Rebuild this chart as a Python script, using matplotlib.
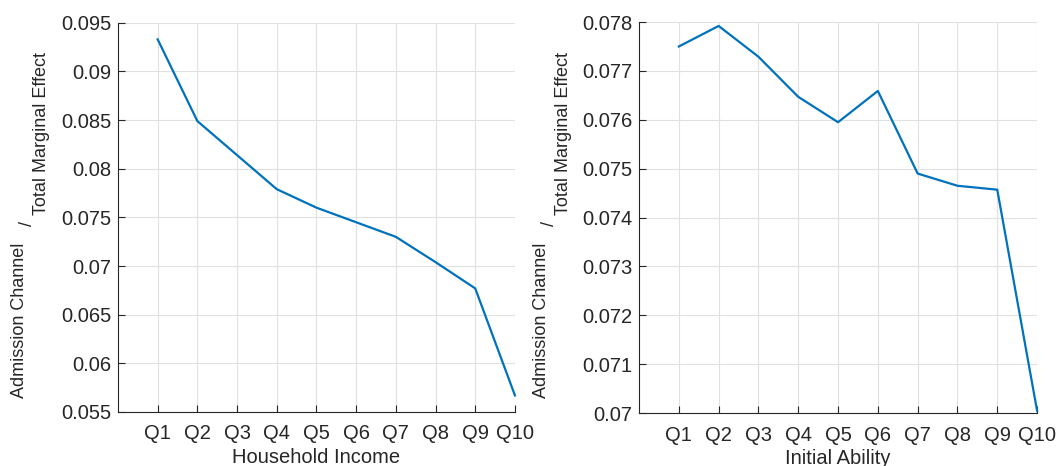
import numpy as np
import matplotlib.pyplot as plt

plt.rcParams['font.family'] = ['Liberation Sans', 'DejaVu Sans']

quantiles = ['Q1', 'Q2', 'Q3', 'Q4', 'Q5', 'Q6', 'Q7', 'Q8', 'Q9', 'Q10']
income_share = [0.0933, 0.0849, 0.0814, 0.0779, 0.0760, 0.0745, 0.0730, 0.0704, 0.0677, 0.0567]
ability_share = [0.07750, 0.07792, 0.07729, 0.07647, 0.07595, 0.07659, 0.07490, 0.07465, 0.07457, 0.07005]

income_ticks = [0.055, 0.06, 0.065, 0.07, 0.075, 0.08, 0.085, 0.09, 0.095]
ability_ticks = [0.07, 0.071, 0.072, 0.073, 0.074, 0.075, 0.076, 0.077, 0.078]

dark = '#262626'
W, H = 1058, 466

fig = plt.figure(figsize=(W / 100, H / 100), dpi=100)
ax1 = fig.add_axes([0.1115, 0.116, 0.3752, 0.835])
ax2 = fig.add_axes([0.604, 0.1137, 0.3762, 0.839])

panels = [
    (ax1, income_share, income_ticks, 'Household Income', 0),
    (ax2, ability_share, ability_ticks, 'Initial Ability', 522),
]

for ax, vals, yt, xlab, dx in panels:
    x = np.arange(1, len(quantiles) + 1)
    ax.plot(x, vals, color='#0072BD', lw=1.6, clip_on=False, zorder=3)
    ax.set_xlim(0, 10)
    ax.set_ylim(yt[0], yt[-1])
    ax.set_xticks(x)
    ax.set_xticklabels(quantiles)
    ax.set_yticks(yt)
    ax.set_yticklabels([('%g' % v) for v in yt])
    ax.grid(True, color='#e1e1e1', lw=0.8)
    ax.set_axisbelow(True)
    for s in ['top', 'right']:
        ax.spines[s].set_visible(False)
    for s in ['left', 'bottom']:
        ax.spines[s].set_color(dark)
        ax.spines[s].set_linewidth(0.8)
    ax.tick_params(direction='in', length=5, width=0.8, colors=dark,
                   labelsize=14.5, pad=5)
    ax.tick_params(axis='x', pad=9)
    ax.set_xlabel(xlab, fontsize=14.5, color=dark, labelpad=3)

    # y label: "Admission Channel" with a raised slash and a lowered
    # "Total Marginal Effect", all rotated
    fig.text((20 + dx) / W, 1 - 398 / H, 'Admission Channel', rotation=90,
             ha='center', va='bottom', fontsize=13, color=dark)
    fig.text((27 + dx) / W, 1 - 224 / H, '/', rotation=90,
             ha='center', va='center', fontsize=13, color=dark)
    fig.text((42 + dx) / W, 1 - 215 / H, 'Total Marginal Effect', rotation=90,
             ha='center', va='bottom', fontsize=13, color=dark)

fig.savefig('out.png', dpi=100)
